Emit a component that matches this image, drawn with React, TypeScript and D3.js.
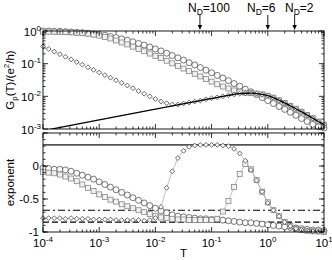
import React from 'react';
import * as d3 from 'd3';

// log10(T) grid of the markers (10 per decade)
const logT = [
  -4, -3.9, -3.8, -3.7, -3.6, -3.5, -3.4, -3.3, -3.2, -3.1,
  -3, -2.9, -2.8, -2.7, -2.6, -2.5, -2.4, -2.3, -2.2, -2.1,
  -2, -1.9, -1.8, -1.7, -1.6, -1.5, -1.4, -1.3, -1.2, -1.1,
  -1, -0.9, -0.8, -0.7, -0.6, -0.5, -0.4, -0.3, -0.2, -0.1,
  0, 0.1, 0.2, 0.3, 0.4, 0.5, 0.6, 0.7, 0.8, 0.9, 1,
];

// top panel: log10 of G_p(T)/(e^2/h)
const topCircles = [
  0.0, 0.0, -0.01, -0.01, -0.02, -0.03, -0.04, -0.05, -0.07, -0.09,
  -0.11, -0.13, -0.17, -0.2, -0.24, -0.28, -0.33, -0.38, -0.43, -0.49,
  -0.55, -0.61, -0.68, -0.75, -0.82, -0.89, -0.97, -1.04, -1.12, -1.2,
  -1.28, -1.36, -1.44, -1.52, -1.61, -1.69, -1.78, -1.86, -1.95, -2.04,
  -2.13, -2.22, -2.31, -2.4, -2.49, -2.58, -2.68, -2.77, -2.86, -2.93, -2.97,
];
const topSquares = [
  -0.02, -0.02, -0.02, -0.03, -0.03, -0.04, -0.05, -0.06, -0.08, -0.11,
  -0.14, -0.18, -0.23, -0.29, -0.35, -0.41, -0.48, -0.55, -0.62, -0.69,
  -0.76, -0.83, -0.91, -0.99, -1.07, -1.15, -1.23, -1.31, -1.39, -1.47,
  -1.55, -1.63, -1.7, -1.76, -1.82, -1.86, -1.89, -1.9, -1.915, -1.94,
  -1.98, -2.04, -2.12, -2.2, -2.29, -2.38, -2.47, -2.57, -2.67, -2.77, -2.87,
];
const topDiamonds = [
  -0.47, -0.55, -0.63, -0.71, -0.79, -0.87, -0.95, -1.03, -1.11, -1.19,
  -1.27, -1.35, -1.43, -1.51, -1.59, -1.67, -1.75, -1.84, -1.92, -2.0,
  -2.08, -2.16, -2.21, -2.25, -2.25, -2.22, -2.19, -2.16, -2.13, -2.09,
  -2.06, -2.03, -2.0, -1.97, -1.94, -1.92, -1.905, -1.9, -1.915, -1.94,
  -1.98, -2.04, -2.12, -2.2, -2.29, -2.38, -2.47, -2.57, -2.67, -2.77, -2.87,
];
// solid curve
const lineLogT = [-3.9, -3, -2, -1.2, -0.8, -0.7, -0.6, -0.5, -0.4, -0.3, -0.2, -0.1, 0, 0.1, 0.2, 0.3, 0.4, 0.5, 0.6, 0.7, 0.8, 0.9, 1];
const lineLogG = [-3.02, -2.72, -2.39, -2.13, -2.0, -1.97, -1.94, -1.92, -1.905, -1.9, -1.915, -1.94, -1.98, -2.04, -2.12, -2.2, -2.29, -2.38, -2.47, -2.57, -2.67, -2.77, -2.87];

// bottom panel: exponent
const botCircles = [
  -0.03, -0.04, -0.05, -0.05, -0.06, -0.08, -0.11, -0.14, -0.17, -0.2,
  -0.24, -0.28, -0.32, -0.36, -0.4, -0.44, -0.48, -0.52, -0.56, -0.6,
  -0.64, -0.68, -0.71, -0.74, -0.76, -0.77, -0.78, -0.79, -0.8, -0.8,
  -0.81, -0.81, -0.82, -0.83, -0.84, -0.85, -0.86, -0.86, -0.87, -0.88,
  -0.89, -0.9, -0.91, -0.92, -0.93, -0.94, -0.95, -0.96, -0.97, -0.97, -0.98,
];
const botSquares = [
  -0.09, -0.1, -0.11, -0.13, -0.16, -0.19, -0.23, -0.28, -0.33, -0.38,
  -0.43, -0.47, -0.51, -0.54, -0.58, -0.61, -0.64, -0.67, -0.7, -0.73,
  -0.76, -0.78, -0.79, -0.8, -0.81, -0.81, -0.82, -0.82, -0.82, -0.82,
  -0.82, -0.8, -0.69, -0.53, -0.32, -0.12, 0.03, -0.05, -0.21, -0.39,
  -0.55, -0.67, -0.76, -0.85, -0.91, -0.95, -0.97, -0.98, -0.99, -0.99, -1.0,
];
const botDiamonds = [
  -0.79, -0.79, -0.79, -0.79, -0.8, -0.79, -0.8, -0.8, -0.8, -0.81,
  -0.81, -0.81, -0.81, -0.82, -0.82, -0.82, -0.82, -0.82, -0.83, -0.82,
  -0.79, -0.62, -0.33, -0.08, 0.12, 0.23, 0.29, 0.31, 0.32, 0.32,
  0.32, 0.32, 0.31, 0.3, 0.26, 0.19, 0.08, -0.06, -0.22, -0.39,
  -0.56, -0.67, -0.76, -0.85, -0.91, -0.95, -0.97, -0.98, -0.99, -1.0, -1.0,
];
const solidLevel = 0.32;
const dashDotLevel = -0.67;
const dashedLevel = -0.85;

// arrows on top: N_D labels and their T
const ndLabels = ['100', '6', '2'];
const ndT = [0.062, 1.0, 3.0];
const ndTextX = [188, 247, 285];

const topTickExp = ['0', '-1', '-2', '-3'];
const botTickVals = [0, -0.5, -1];
const botTickText = ['0', '-0.5', '-1'];
const xTickExp = ['-4', '-3', '-2', '-1', '0', '1'];

const font = '"Liberation Sans", Arial, Helvetica, sans-serif';

export default function App() {
  const L = 43, R = 324;
  const top1 = 31, bot1 = 129, top2 = 133, bot2 = 232;

  const x = d3.scaleLog().domain([1e-4, 10]).range([L, R]);
  const yG = d3.scaleLog().domain([1e-3, 1]).range([bot1, top1]);
  const yE = d3.scaleLinear().domain([-1, 0.5]).range([bot2, top2]);

  const T = logT.map(e => Math.pow(10, e));
  const gLine = d3.line<number>().x((_, i) => x(Math.pow(10, lineLogT[i]))).y(v => yG(Math.pow(10, v))).curve(d3.curveMonotoneX);
  const gConn = d3.line<number>().x((_, i) => x(T[i])).y(v => yG(Math.pow(10, v)));
  const eConn = d3.line<number>().x((_, i) => x(T[i])).y(v => yE(v));

  const decades = d3.range(-4, 2).map(k => Math.pow(10, k));
  const minorX: number[] = [];
  d3.range(-4, 1).forEach(k => d3.range(2, 10).forEach(m => minorX.push(m * Math.pow(10, k))));
  const decY = d3.range(-3, 1).map(k => Math.pow(10, k));
  const minorY: number[] = [];
  d3.range(-3, 0).forEach(k => d3.range(2, 10).forEach(m => minorY.push(m * Math.pow(10, k))));
  const minorE = d3.range(-10, 6).map(i => i / 10);
  const majorE = [-1, -0.5, 0, 0.5];

  const circ = (cx: number, cy: number, k: string) => (
    <circle key={k} cx={cx} cy={cy} r={3} fill="white" stroke="#4a4a4a" strokeWidth={0.75} />
  );
  const sq = (cx: number, cy: number, k: string) => (
    <rect key={k} x={cx - 2.5} y={cy - 2.5} width={5} height={5} fill="#f2f2f2" stroke="#808080" strokeWidth={0.75} />
  );
  const dia = (cx: number, cy: number, k: string) => {
    const s = 2.4;
    return <path key={k} d={`M${cx},${cy - s}L${cx + s},${cy}L${cx},${cy + s}L${cx - s},${cy}Z`} fill="white" stroke="#3a3a3a" strokeWidth={0.75} />;
  };

  const xTicks = (yA: number, yB: number) => (
    <g stroke="#000" strokeWidth={0.8}>
      {decades.map(t => <line key={'a' + t} x1={x(t)} x2={x(t)} y1={yA} y2={yA - 5} />)}
      {decades.map(t => <line key={'b' + t} x1={x(t)} x2={x(t)} y1={yB} y2={yB + 5} />)}
      {minorX.map(t => <line key={'c' + t} x1={x(t)} x2={x(t)} y1={yA} y2={yA - 2.5} />)}
      {minorX.map(t => <line key={'d' + t} x1={x(t)} x2={x(t)} y1={yB} y2={yB + 2.5} />)}
    </g>
  );

  return (
    <svg width={332} height={260} style={{ position: 'absolute', left: 0, top: 0, background: 'white' }} fontFamily={font}>
      <defs>
        <clipPath id="clipTop"><rect x={L} y={top1} width={R - L} height={bot1 - top1} /></clipPath>
        <clipPath id="clipBot"><rect x={L} y={top2} width={R - L} height={bot2 - top2} /></clipPath>
      </defs>

      {/* ---- top panel ---- */}
      <g clipPath="url(#clipTop)" fill="none" stroke="#999" strokeWidth={0.5}>
        <path d={gConn(topCircles) || ''} />
        <path d={gConn(topSquares) || ''} />
        <path d={gConn(topDiamonds) || ''} />
      </g>
      {topCircles.map((v, i) => circ(x(T[i]), yG(Math.pow(10, v)), 'tc' + i))}
      {topSquares.map((v, i) => sq(x(T[i]), yG(Math.pow(10, v)), 'ts' + i))}
      {topDiamonds.map((v, i) => dia(x(T[i]), yG(Math.pow(10, v)), 'td' + i))}
      <path d={gLine(lineLogG) || ''} clipPath="url(#clipTop)" fill="none" stroke="#000" strokeWidth={1.3} />

      <rect x={L} y={top1} width={R - L} height={bot1 - top1} fill="none" stroke="#000" strokeWidth={0.9} />
      {xTicks(bot1, top1)}
      <g stroke="#000" strokeWidth={0.8}>
        {decY.map(t => <line key={'ya' + t} x1={L} x2={L + 5} y1={yG(t)} y2={yG(t)} />)}
        {decY.map(t => <line key={'yb' + t} x1={R} x2={R - 5} y1={yG(t)} y2={yG(t)} />)}
        {minorY.map(t => <line key={'yc' + t} x1={L} x2={L + 2.5} y1={yG(t)} y2={yG(t)} />)}
        {minorY.map(t => <line key={'yd' + t} x1={R} x2={R - 2.5} y1={yG(t)} y2={yG(t)} />)}
      </g>
      {topTickExp.map((e, i) => (
        <text key={'tl' + i} x={41} y={yG(Math.pow(10, -i)) + 4.5} textAnchor="end" fontSize={11.5}>
          10<tspan dy={-5} fontSize={8}>{e}</tspan>
        </text>
      ))}
      <text transform={`translate(14,${(top1 + bot1) / 2}) rotate(-90)`} textAnchor="middle" fontSize={11.5}>
        G<tspan dy={3} fontSize={8}>p</tspan><tspan dy={-3}>(T)/(e</tspan><tspan dy={-5} fontSize={8}>2</tspan><tspan dy={5}>/h)</tspan>
      </text>

      {/* N_D arrows */}
      {ndLabels.map((lab, i) => (
        <g key={'nd' + i}>
          <text x={ndTextX[i]} y={12} fontSize={12}>
            N<tspan dy={3} fontSize={8.5}>D</tspan><tspan dy={-3}>={lab}</tspan>
          </text>
          <line x1={x(ndT[i])} x2={x(ndT[i])} y1={15} y2={27} stroke="#000" strokeWidth={0.9} />
          <path d={`M${x(ndT[i]) - 2.2},${25}L${x(ndT[i]) + 2.2},${25}L${x(ndT[i])},${30}Z`} fill="#000" />
        </g>
      ))}

      {/* ---- bottom panel ---- */}
      <g clipPath="url(#clipBot)">
        <line x1={L} x2={R} y1={yE(solidLevel)} y2={yE(solidLevel)} stroke="#555" strokeWidth={1.6} />
        <line x1={L} x2={R} y1={yE(dashDotLevel)} y2={yE(dashDotLevel)} stroke="#000" strokeWidth={1.1} strokeDasharray="7,3,2,3" />
        <line x1={L} x2={R} y1={yE(dashedLevel)} y2={yE(dashedLevel)} stroke="#000" strokeWidth={1.1} strokeDasharray="6,3" />
        <g fill="none" stroke="#999" strokeWidth={0.6}>
          <path d={eConn(botCircles) || ''} />
          <path d={eConn(botSquares) || ''} />
          <path d={eConn(botDiamonds) || ''} />
        </g>
      </g>
      {botCircles.map((v, i) => circ(x(T[i]), yE(v), 'bc' + i))}
      {botSquares.map((v, i) => sq(x(T[i]), yE(v), 'bs' + i))}
      {botDiamonds.map((v, i) => dia(x(T[i]), yE(v), 'bd' + i))}

      <rect x={L} y={top2} width={R - L} height={bot2 - top2} fill="none" stroke="#000" strokeWidth={0.9} />
      {xTicks(bot2, top2)}
      <g stroke="#000" strokeWidth={0.8}>
        {majorE.map(v => <line key={'ea' + v} x1={L} x2={L + 5} y1={yE(v)} y2={yE(v)} />)}
        {majorE.map(v => <line key={'eb' + v} x1={R} x2={R - 5} y1={yE(v)} y2={yE(v)} />)}
        {minorE.map(v => <line key={'ec' + v} x1={L} x2={L + 2.5} y1={yE(v)} y2={yE(v)} />)}
        {minorE.map(v => <line key={'ed' + v} x1={R} x2={R - 2.5} y1={yE(v)} y2={yE(v)} />)}
      </g>
      {botTickVals.map((v, i) => (
        <text key={'bl' + i} x={39} y={yE(v) + 4} textAnchor="end" fontSize={11.5}>{botTickText[i]}</text>
      ))}
      <text transform={`translate(14,${(top2 + bot2) / 2}) rotate(-90)`} textAnchor="middle" fontSize={11.5}>exponent</text>

      {xTickExp.map((e, i) => (
        <text key={'xl' + i} x={x(decades[i])} y={247} textAnchor="middle" fontSize={11.5}>
          10<tspan dy={-5} fontSize={8}>{e}</tspan>
        </text>
      ))}
      <text x={(L + R) / 2} y={257} textAnchor="middle" fontSize={11.5}>T</text>
    </svg>
  );
}
